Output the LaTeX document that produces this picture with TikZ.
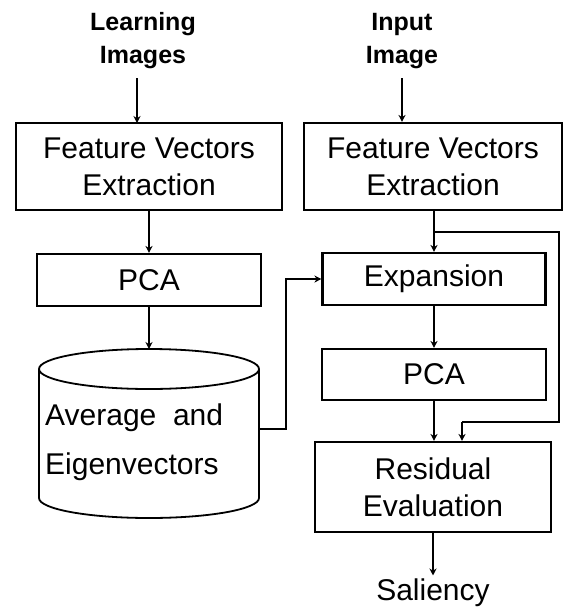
\documentclass[tikz,border=0pt]{standalone}
\usepackage{fontspec}
\setmainfont{Liberation Sans}
\usetikzlibrary{arrows.meta}
\tikzset{
	box/.style={draw,line width=2.1pt,align=center,inner sep=0pt,font=\fontsize{30}{37}\selectfont},
	title/.style={align=center,font=\bfseries\fontsize{25}{33}\selectfont},
	flow/.style={line width=2.6pt,-{Stealth[length=7pt,width=7pt]}},
	wire/.style={line width=2.2pt}
}
\begin{document}
\begin{tikzpicture}[x=1pt,y=-1pt]
		\useasboundingbox (0,0) rectangle (563,611);
		\node[title] (learn) at (143,41) {Learning\\Images};
		\node[title] (input) at (402,41) {Input\\Image};
		\node[box,minimum width=266pt,minimum height=87pt] (fvl) at (149,166.5) {Feature Vectors\\Extraction};
		\node[box,minimum width=258pt,minimum height=87pt] (fvr) at (433,166.5) {Feature Vectors\\Extraction};
		\node[box,minimum width=224pt,minimum height=52pt] (pcal) at (149,280) {PCA};
		\node[box,minimum width=223pt,minimum height=52pt] (exp) at (434,279) {Expansion};
		\node[box,minimum width=224pt,minimum height=51pt] (pcar) at (434,374.5) {PCA};
		\node[box,minimum width=236pt,minimum height=90pt] (res) at (433,487) {Residual\\Evaluation};
		\node[font=\fontsize{30}{37}\selectfont] (sal) at (433,593) {Saliency};
		% database cylinder
		\draw[line width=1.8pt,fill=white] (39,369) -- (39,498) arc[start angle=180,end angle=360,x radius=110pt,y radius=20pt] -- (259,369);
		\draw[line width=1.8pt] (149,369) ellipse[x radius=110pt,y radius=20pt];
		\node[anchor=west,align=left,inner sep=0pt,font=\fontsize{30}{49}\selectfont] (avg) at (45,442.5) {Average\ \ and\\Eigenvectors};
		\coordinate (cyltop) at (149,349);
		\coordinate (cylr) at (259,429);
		\coordinate (split) at (433,232);
		\coordinate (fbtop) at (559,232);
		\coordinate (fbbot) at (559,422);
		\coordinate (fbin) at (462,422);
		% arrows
		\draw[flow] (137,78) -- (137,123);
		\draw[flow] (402,78) -- (input.south |- fvr.north);
		\draw[flow] (fvl.south) -- (pcal.north);
		\draw[flow] (pcal.south) -- (cyltop);
		\draw[flow] (fvr.south -| exp.north) -- (exp.north);
		\draw[flow] (exp.south) -- (pcar.south |- pcar.north);
		\draw[flow] (pcar.south) -- (pcar.south |- res.north);
		\draw[flow] (res.south) -- (sal.north);
		\draw[flow] (cylr) -- ++(27,0) |- (exp.west);
		\draw[wire] (split) -- (fbtop) -- (fbbot) -- (fbin);
		\draw[flow] (fbin) -- (fbin |- res.north);
	\end{tikzpicture}
\end{document}
